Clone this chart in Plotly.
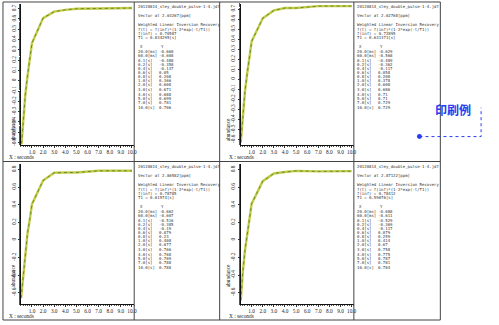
import plotly.graph_objects as go

# ---- data -------------------------------------------------------------
file_name = "20120814_stey_double_pulse-1-4.jdf"
time_labels = ["20.0[ms]", "60.0[ms]", "0.1[s]", "0.2[s]", "0.4[s]", "0.6[s]", "0.8[s]",
               "1.0[s]", "2.0[s]", "3.0[s]", "4.0[s]", "5.0[s]", "7.0[s]", "10.0[s]"]

vector_ppm = ["2.63267", "2.62768", "2.86582", "2.87122"]
f_inf = ["0.70587", "0.72895", "0.78785", "0.78412"]
t1_s = ["0.834295", "0.631371", "0.61574", "0.59076"]

abundance_a = [-0.668, -0.608, -0.488, -0.358, -0.137, 0.05, 0.208, 0.366, 0.608, 0.671, 0.688, 0.699, 0.701, 0.706]
abundance_b = [-0.629, -0.568, -0.489, -0.362, -0.117, 0.058, 0.208, 0.378, 0.608, 0.686, 0.71, 0.71, 0.729, 0.729]
abundance_c = [-0.662, -0.607, -0.516, -0.385, -0.19, 0.079, 0.23, 0.408, 0.677, 0.766, 0.768, 0.769, 0.788, 0.788]
abundance_d = [-0.688, -0.611, -0.529, -0.369, -0.117, 0.079, 0.259, 0.414, 0.67, 0.758, 0.775, 0.787, 0.781, 0.784]

x_ticks = [1, 2, 3, 4, 5, 6, 7, 8, 9, 10]
y_ticks_top = [-0.6, -0.5, -0.4, -0.3, -0.2, -0.1, 0, 0.1, 0.2, 0.3, 0.4, 0.5, 0.6, 0.7]
y_ticks_bottom = [-0.6, -0.4, -0.2, 0, 0.2, 0.4, 0.6, 0.8]


def to_seconds(label):
    value, unit = label[:-1].split("[")
    return float(value) / 1000 if unit == "ms" else float(value)


time_s = [to_seconds(t) for t in time_labels]

# ---- page geometry (pixels of the 499 x 325 page) ---------------------
W, H = 499, 325


def px(x):
    return x / W


def py(y):
    return 1 - y / H


panels = [
    dict(ys=abundance_a, pl=21, pr=135, pt=4, pb=145, tx=137, ty=0, yr=[-0.62, 0.745], yt=y_ticks_top),
    dict(ys=abundance_b, pl=242, pr=356, pt=4, pb=145, tx=357.5, ty=0, yr=[-0.65, 0.75], yt=y_ticks_top),
    dict(ys=abundance_c, pl=21, pr=135, pt=165, pb=305, tx=137, ty=160.5, yr=[-0.73, 0.86], yt=y_ticks_bottom),
    dict(ys=abundance_d, pl=242, pr=356, pt=165, pb=305, tx=357.5, ty=160.5, yr=[-0.73, 0.86], yt=y_ticks_bottom),
]

fig = go.Figure()
annotations = []
shapes = []

tick_font = dict(family="Liberation Serif", size=5.3, color="#222")
mono = dict(family="DejaVu Sans Mono", size=4.0, color="#333")


def tick_text(v):
    return "0" if abs(v) < 1e-9 else f"{v:g}"


for i, p in enumerate(panels):
    n = "" if i == 0 else str(i + 1)
    xa, ya = "x" + n, "y" + n
    # recovery curve: broad yellow-green stroke with a fine dark green line on top
    fig.add_trace(go.Scatter(x=time_s, y=p["ys"], mode="lines", xaxis=xa, yaxis=ya,
                             line=dict(color="#c3cb48", width=2.4), showlegend=False,
                             hoverinfo="skip"))
    fig.add_trace(go.Scatter(x=time_s, y=p["ys"], mode="lines", xaxis=xa, yaxis=ya,
                             line=dict(color="#4f7d22", width=0.8, dash="dot"), showlegend=False))

    axis_common = dict(showline=True, linecolor="#111", linewidth=1, showgrid=False,
                       zeroline=False, ticks="outside", ticklen=2, tickwidth=0.6,
                       tickcolor="#333", tickfont=tick_font, mirror=False)
    fig.update_layout({
        "xaxis" + n: dict(axis_common, domain=[px(p["pl"]), px(p["pr"])], range=[0, 10.2],
                          anchor=ya, tickvals=x_ticks, ticktext=[f"{v:.1f}" for v in x_ticks],
                          tickangle=0, ticklabelstandoff=0,
                          minor=dict(ticks="outside", ticklen=1, dtick=0.2, tickcolor="#555")),
        "yaxis" + n: dict(axis_common, domain=[py(p["pb"]), py(p["pt"])], range=p["yr"],
                          anchor=xa, tickvals=p["yt"], ticktext=[tick_text(v) for v in p["yt"]],
                          tickangle=-90, ticklabelstandoff=0,
                          minor=dict(ticks="outside", ticklen=1, nticks=40, tickcolor="#555")),
    })

    # axis captions
    annotations.append(dict(x=px(p["pl"] - 14), y=py(p["pb"] + 12), xref="paper", yref="paper",
                            text="X : seconds", showarrow=False, xanchor="left", yanchor="middle",
                            font=tick_font))
    annotations.append(dict(x=px(p["pl"] - 13), y=py(p["pb"] - 15), xref="paper", yref="paper",
                            text="abundance", textangle=-90, showarrow=False,
                            font=tick_font))

    # fit report
    tx, ty = p["tx"], p["ty"]
    header = [
        (7, file_name),
        (16, f"Vector at {vector_ppm[i]}[ppm]"),
        (25, "Weighted Linear Inversion Recovery"),
        (29.2, "f(t) = f(inf)*(1-2*exp(-t/T1))"),
        (33.4, f"f(inf) = {f_inf[i]}"),
        (37.6, f"T1 = {t1_s[i]}[s]"),
    ]
    for yy, txt in header:
        annotations.append(dict(x=px(tx), y=py(ty + yy), xref="paper", yref="paper", text=txt,
                                showarrow=False, xanchor="left", yanchor="middle", font=mono))
    annotations.append(dict(x=px(tx + 2), y=py(ty + 47), xref="paper", yref="paper", text="X",
                            showarrow=False, xanchor="left", yanchor="middle", font=mono))
    annotations.append(dict(x=px(tx + 23), y=py(ty + 47), xref="paper", yref="paper", text="Y",
                            showarrow=False, xanchor="left", yanchor="middle", font=mono))
    for r, (lab, val) in enumerate(zip(time_labels, p["ys"])):
        yy = ty + 51.5 + 4.15 * r + (0.5 if r >= 2 else 0) + (1.5 if r >= 10 else 0)
        annotations.append(dict(x=px(tx), y=py(yy), xref="paper", yref="paper", text=lab,
                                showarrow=False, xanchor="left", yanchor="middle", font=mono))
        annotations.append(dict(x=px(tx + 21), y=py(yy), xref="paper", yref="paper",
                                text=f"{val:g}", showarrow=False, xanchor="left",
                                yanchor="middle", font=mono))

# ---- frame of the printed sheet -----------------------------------------
frame = dict(color="#444", width=1)
shapes.append(dict(type="rect", xref="paper", yref="paper", x0=px(3), x1=px(443),
                   y0=py(321), y1=py(2), line=frame))
for xv in (135, 221, 356):
    shapes.append(dict(type="line", xref="paper", yref="paper", x0=px(xv), x1=px(xv),
                       y0=py(321), y1=py(2), line=frame))
shapes.append(dict(type="line", xref="paper", yref="paper", x0=px(3), x1=px(443),
                   y0=py(162), y1=py(162), line=frame))

# ---- callout ------------------------------------------------------------
blue = "#2a3cf2"
shapes.append(dict(type="path", xref="paper", yref="paper",
                   path=f"M {px(422)} {py(137)} L {px(484)} {py(137)} L {px(484)} {py(108)}",
                   line=dict(color=blue, width=1, dash="dot")))
shapes.append(dict(type="circle", xref="paper", yref="paper", x0=px(419.5), x1=px(424.5),
                   y0=py(139.5), y1=py(134.5), fillcolor=blue, line=dict(color=blue, width=0)))
annotations.append(dict(x=px(476), y=py(99), xref="paper", yref="paper", text="<b>印刷例</b>",
                        showarrow=False, font=dict(family="Noto Sans CJK JP", size=12, color=blue)))

fig.update_layout(width=W, height=H, margin=dict(l=0, r=0, t=0, b=0),
                  paper_bgcolor="white", plot_bgcolor="white",
                  annotations=annotations, shapes=shapes, showlegend=False)

fig.write_html("out.html")
